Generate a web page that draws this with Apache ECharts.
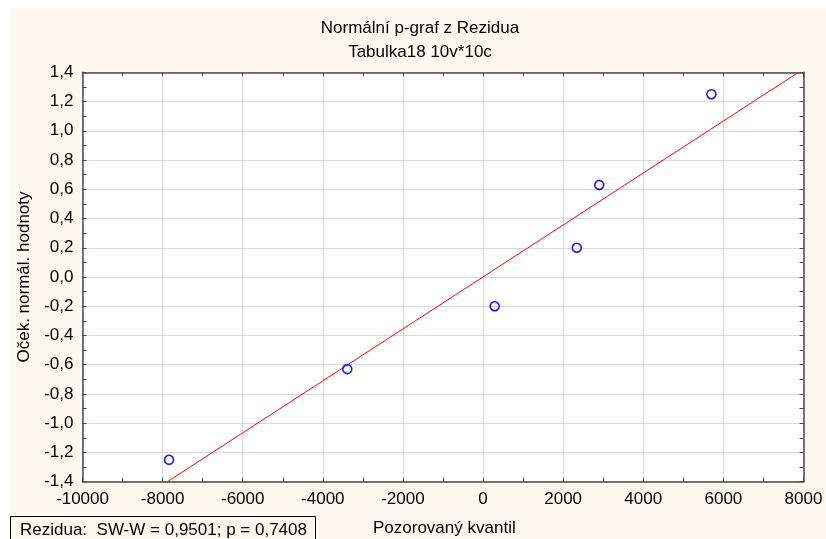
<!DOCTYPE html>
<html>
<head>
<meta charset="utf-8">
<script src="https://cdn.jsdelivr.net/npm/echarts@6/dist/echarts.min.js"></script>
<style>html,body{margin:0;padding:0;background:#fff}#c{width:826px;height:539px}</style>
</head>
<body>
<div id="c"></div>
<script>
var titleText = 'Normální p-graf z Rezidua';
var subtitleText = 'Tabulka18 10v*10c';
var xAxisName = 'Pozorovaný kvantil';
var yAxisName = 'Oček. normál. hodnoty';
var statText = 'Rezidua:  SW-W = 0,9501; p = 0,7408';

// observed residual quantiles (x) and expected normal values (y)
var observed = [-7840, -3390, 290, 2340, 2900, 5700];
var expected = [-1.25, -0.63, -0.20, 0.20, 0.63, 1.25];
// reference line endpoints
var lineX = [-7880, 7875];
var lineY = [-1.4, 1.4];

var xMin = -10000, xMax = 8000, xStep = 2000;
var yMin = -1.4, yMax = 1.4, yStep = 0.2;

var FONT = 'Liberation Sans, Arial, sans-serif';
var FS = 17;
var pts = observed.map(function (v, i) { return [v, expected[i]]; });
var linePts = lineX.map(function (v, i) { return [v, lineY[i]]; });

var axisLineStyle = { color: '#4a4a4a', width: 1.5 };
var tickStyle = { color: '#4a4a4a', width: 1 };
function yFmt(v) { return (Math.round(v * 10) / 10).toFixed(1).replace('.', ','); }
function xFmt(v) { return String(Math.round(v)); }

var chart = echarts.init(document.getElementById('c'), null, { renderer: 'canvas' });
chart.setOption({
  animation: false,
  backgroundColor: '#ffffff',
  graphic: [
    { type: 'rect', z: -10, left: 10, top: 8, shape: { width: 816, height: 531 }, style: { fill: '#fdf9ef' } },
    { type: 'rect', z: 10, left: 10, top: 516, shape: { width: 305, height: 30 }, style: { fill: 'transparent', stroke: '#000', lineWidth: 1 } },
    { type: 'text', z: 11, x: 20, y: 530, style: { text: statText, font: FS + 'px ' + FONT, fill: '#000', textVerticalAlign: 'middle' } },
    { type: 'text', z: 11, x: 373, y: 528, style: { text: xAxisName, font: FS + 'px ' + FONT, fill: '#000', textVerticalAlign: 'middle' } },
    { type: 'text', z: 11, x: 420, y: 28, style: { text: titleText, font: FS + 'px ' + FONT, fill: '#000', textAlign: 'center', textVerticalAlign: 'middle' } },
    { type: 'text', z: 11, x: 420, y: 52, style: { text: subtitleText, font: FS + 'px ' + FONT, fill: '#000', textAlign: 'center', textVerticalAlign: 'middle' } }
  ],
  grid: {
    left: 82.5, right: 22.5, top: 72.3, bottom: 57.3,
    show: true, backgroundColor: '#ffffff', borderWidth: 0
  },
  xAxis: [{
    type: 'value', position: 'bottom', min: xMin, max: xMax, interval: xStep,
    axisLine: { show: true, onZero: false, lineStyle: axisLineStyle },
    axisTick: { show: true, inside: true, length: 4, lineStyle: tickStyle },
    minorTick: { show: true, splitNumber: 2, length: 4, lineStyle: tickStyle },
    axisLabel: { fontFamily: FONT, fontSize: FS, color: '#000', margin: 9, formatter: xFmt },
    splitLine: { show: true, lineStyle: { color: '#d9d9d9', width: 1 } }
  }, {
    type: 'value', position: 'top', min: xMin, max: xMax, interval: xStep,
    axisLine: { show: true, onZero: false, lineStyle: axisLineStyle },
    axisTick: { show: true, inside: true, length: 4, lineStyle: tickStyle },
    minorTick: { show: true, splitNumber: 2, length: 4, lineStyle: tickStyle },
    axisLabel: { show: false }, splitLine: { show: false }
  }],
  yAxis: [{
    type: 'value', position: 'left', min: yMin, max: yMax, interval: yStep,
    name: yAxisName, nameLocation: 'middle', nameGap: 46, nameRotate: 90,
    nameTextStyle: { fontFamily: FONT, fontSize: FS, color: '#000' },
    axisLine: { show: true, onZero: false, lineStyle: axisLineStyle },
    axisTick: { show: true, inside: true, length: 4, lineStyle: tickStyle },
    minorTick: { show: true, splitNumber: 2, length: 4, lineStyle: tickStyle },
    axisLabel: { fontFamily: FONT, fontSize: FS, color: '#000', margin: 9, formatter: yFmt },
    splitLine: { show: true, lineStyle: { color: '#d9d9d9', width: 1 } }
  }, {
    type: 'value', position: 'right', min: yMin, max: yMax, interval: yStep,
    axisLine: { show: true, onZero: false, lineStyle: axisLineStyle },
    axisTick: { show: true, inside: true, length: 4, lineStyle: tickStyle },
    minorTick: { show: true, splitNumber: 2, length: 4, lineStyle: tickStyle },
    axisLabel: { show: false }, splitLine: { show: false }
  }],
  series: [{
    type: 'line', data: linePts, showSymbol: false, symbol: 'none',
    lineStyle: { color: '#ff0000', width: 1 }, z: 3, silent: true
  }, {
    type: 'scatter', data: pts, symbol: 'circle', symbolSize: 9,
    itemStyle: { color: 'rgba(0,0,0,0)', borderColor: '#1a1aff', borderWidth: 1.6, opacity: 1 }, z: 4
  }]
});
</script>
</body>
</html>
